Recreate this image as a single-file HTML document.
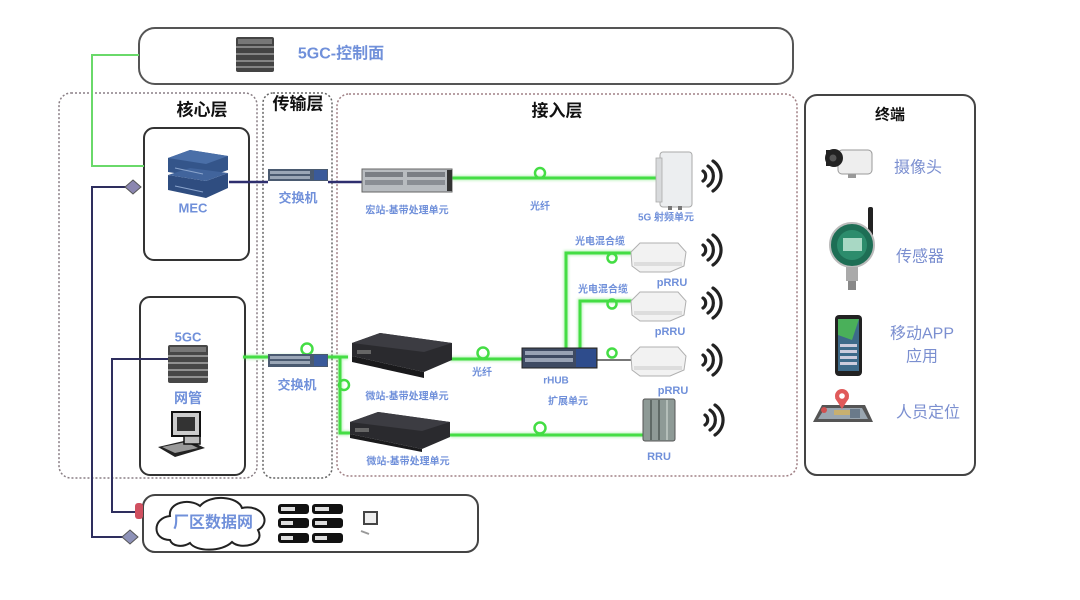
<!DOCTYPE html>
<html><head><meta charset="utf-8"><style>
html,body{margin:0;padding:0;background:#fff;width:1080px;height:600px;overflow:hidden}
svg{display:block}
text{font-family:"Liberation Sans","Noto Sans CJK SC",sans-serif}
.b{fill:#7090da;font-weight:bold}
.n{fill:#7b8fd0}
.t{fill:#111;font-weight:bold}
</style></head><body>
<svg width="1080" height="600" viewBox="0 0 1080 600" xmlns="http://www.w3.org/2000/svg">
<defs>
<filter id="gl" x="-20%" y="-20%" width="140%" height="140%"><feGaussianBlur stdDeviation="1.2"/></filter>
</defs>

<!-- top 5GC control plane box -->
<rect x="139" y="28" width="654" height="56" rx="16" fill="#fff" stroke="#555" stroke-width="2"/>
<g>
<rect x="236" y="37" width="38" height="35" rx="2" fill="#444"/>
<rect x="238" y="39" width="34" height="5" fill="#777"/>
<line x1="236" y1="47" x2="274" y2="47" stroke="#999" stroke-width="1.5"/>
<line x1="236" y1="54" x2="274" y2="54" stroke="#999" stroke-width="1.5"/>
<line x1="236" y1="61" x2="274" y2="61" stroke="#999" stroke-width="1.5"/>
<line x1="236" y1="67" x2="274" y2="67" stroke="#999" stroke-width="1.5"/>
</g>
<text x="341" y="54" class="b" font-size="16" text-anchor="middle" dominant-baseline="central">5GC-控制面</text>

<!-- dashed layer boxes -->
<rect x="59" y="93" width="198" height="385" rx="12" fill="none" stroke="#8a7f85" stroke-width="1.5" stroke-dasharray="2,2"/>
<rect x="263" y="93" width="69" height="385" rx="10" fill="none" stroke="#666" stroke-width="1.5" stroke-dasharray="2,2"/>
<rect x="337" y="94" width="460" height="382" rx="12" fill="none" stroke="#a08085" stroke-width="1.5" stroke-dasharray="2,2"/>

<text x="202" y="110" class="t" font-size="17" text-anchor="middle" dominant-baseline="central">核心层</text>
<text x="298" y="104" class="t" font-size="17" text-anchor="middle" dominant-baseline="central">传输层</text>
<text x="557" y="111" class="t" font-size="17" text-anchor="middle" dominant-baseline="central">接入层</text>

<!-- MEC box -->
<rect x="144" y="128" width="105" height="132" rx="10" fill="#fff" stroke="#333" stroke-width="2"/>
<!-- 5GC box -->
<rect x="140" y="297" width="105" height="178" rx="10" fill="#fff" stroke="#333" stroke-width="2"/>

<!-- terminal box -->
<rect x="805" y="95" width="170" height="380" rx="12" fill="#fff" stroke="#444" stroke-width="2"/>

<!-- bottom box -->
<rect x="143" y="495" width="335" height="57" rx="12" fill="#fff" stroke="#444" stroke-width="2"/>

<!-- green control line -->
<polyline points="139,55 92,55 92,166 144,166" fill="none" stroke="#6ad96a" stroke-width="2"/>

<!-- navy lines -->
<polyline points="128,187 92,187 92,537 126,537" fill="none" stroke="#2e2e5e" stroke-width="2"/>
<polyline points="172,359 112,359 112,512 136,512" fill="none" stroke="#2e2e5e" stroke-width="2"/>
<line x1="229" y1="182" x2="268" y2="182" stroke="#2e2e6e" stroke-width="2.5"/>
<line x1="328" y1="182" x2="362" y2="182" stroke="#2e2e6e" stroke-width="2.5"/>

<!-- green lines -->
<g stroke="#44dd44" fill="none">
<g stroke-width="5" opacity="0.35" filter="url(#gl)">
<line x1="452" y1="178" x2="660" y2="178"/>
<line x1="243" y1="357" x2="348" y2="357"/>
<polyline points="340,357 340,433 350,433"/>
<line x1="450" y1="359" x2="522" y2="359"/>
<polyline points="566,350 566,253 632,253"/>
<polyline points="580,350 580,301 632,301"/>
<line x1="450" y1="435" x2="644" y2="435"/>
</g>
<g stroke-width="3">
<line x1="452" y1="178" x2="660" y2="178"/>
<line x1="243" y1="357" x2="348" y2="357"/>
<polyline points="340,357 340,433 350,433"/>
<line x1="450" y1="359" x2="522" y2="359"/>
<polyline points="566,350 566,253 632,253"/>
<polyline points="580,350 580,301 632,301"/>
<line x1="450" y1="435" x2="644" y2="435"/>
</g>
<g stroke-width="2.5">
<circle cx="540" cy="173" r="5"/>
<circle cx="307" cy="349" r="5.5"/>
<circle cx="344" cy="385" r="5"/>
<circle cx="483" cy="353" r="5.5"/>
<circle cx="612" cy="258" r="4.5"/>
<circle cx="612" cy="304" r="4.5"/>
<circle cx="612" cy="353" r="4.5"/>
<circle cx="540" cy="428" r="5.5"/>
</g>
</g>
<line x1="597" y1="360" x2="632" y2="360" stroke="#777" stroke-width="2"/>

<!-- MEC device -->
<g>
<polygon points="168,158 190,150 228,156 228,170 206,178 168,172" fill="#34558a"/>
<polygon points="168,158 190,150 228,156 206,164" fill="#4a6fa8"/>
<polygon points="168,175 168,190 206,198 228,188 228,173 206,181" fill="#2f4d80"/>
<polygon points="168,175 190,168 228,173 206,181" fill="#41649c"/>
<line x1="175" y1="168" x2="203" y2="174" stroke="#8aa4cc" stroke-width="1"/>
<line x1="175" y1="186" x2="203" y2="192" stroke="#8aa4cc" stroke-width="1"/>
</g>
<text x="193" y="208" class="b" font-size="13" text-anchor="middle" dominant-baseline="central">MEC</text>

<!-- diamonds -->
<polygon points="133,180 141,187 133,194 125,187" fill="#8b86b0" stroke="#555" stroke-width="1"/>
<polygon points="130,530 138,537 130,544 122,537" fill="#8e92b8" stroke="#555" stroke-width="1"/>
<rect x="135" y="503" width="8" height="16" rx="3" fill="#d05060"/>

<!-- switches -->
<g>
<rect x="268" y="169" width="60" height="12" fill="#4a5a70"/>
<rect x="270" y="171" width="40" height="3" fill="#9aa6b6"/>
<rect x="270" y="176" width="40" height="3" fill="#9aa6b6"/>
<rect x="314" y="170" width="13" height="10" fill="#3a5a9a"/>
</g>
<text x="298" y="198" class="b" font-size="13" text-anchor="middle" dominant-baseline="central">交换机</text>
<g>
<rect x="268" y="354" width="60" height="13" fill="#4a5a70"/>
<rect x="270" y="356" width="40" height="3" fill="#9aa6b6"/>
<rect x="270" y="361" width="40" height="3" fill="#9aa6b6"/>
<rect x="314" y="355" width="13" height="11" fill="#3a5a9a"/>
</g>
<text x="297" y="385" class="b" font-size="13" text-anchor="middle" dominant-baseline="central">交换机</text>

<!-- macro BBU -->
<g>
<rect x="362" y="169" width="90" height="23" fill="#b8bcc0" stroke="#666" stroke-width="1"/>
<rect x="365" y="172" width="38" height="5" fill="#7a7e84"/>
<rect x="365" y="180" width="38" height="5" fill="#8a8e94"/>
<rect x="407" y="172" width="38" height="5" fill="#7a7e84"/>
<rect x="407" y="180" width="38" height="5" fill="#8a8e94"/>
<rect x="447" y="170" width="5" height="21" fill="#333"/>
</g>
<text x="407" y="211" class="b" font-size="10" text-anchor="middle" dominant-baseline="central">宏站-基带处理单元</text>
<text x="540" y="207" class="b" font-size="10" text-anchor="middle" dominant-baseline="central">光纤</text>

<!-- 5G radio unit -->
<g>
<rect x="660" y="152" width="32" height="55" rx="3" fill="#eceef0" stroke="#aaa" stroke-width="1"/>
<rect x="656" y="158" width="6" height="44" fill="#d8dadc" stroke="#aaa" stroke-width="0.8"/>
<rect x="668" y="206" width="4" height="4" fill="#777"/>
<rect x="678" y="206" width="4" height="4" fill="#777"/>
</g>
<text x="666" y="218" class="b" font-size="10" text-anchor="middle" dominant-baseline="central">5G 射频单元</text>

<!-- waves -->
<g fill="none" stroke="#222" stroke-width="3.2" stroke-linecap="round">
<g transform="translate(703,176)"><path d="M0,-5 A6,6 0 0,1 0,5"/><path d="M5,-10 A12,12 0 0,1 5,10"/><path d="M10,-15 A18,18 0 0,1 10,15"/></g>
<g transform="translate(703,250)"><path d="M0,-5 A6,6 0 0,1 0,5"/><path d="M5,-10 A12,12 0 0,1 5,10"/><path d="M10,-15 A18,18 0 0,1 10,15"/></g>
<g transform="translate(703,303)"><path d="M0,-5 A6,6 0 0,1 0,5"/><path d="M5,-10 A12,12 0 0,1 5,10"/><path d="M10,-15 A18,18 0 0,1 10,15"/></g>
<g transform="translate(703,360)"><path d="M0,-5 A6,6 0 0,1 0,5"/><path d="M5,-10 A12,12 0 0,1 5,10"/><path d="M10,-15 A18,18 0 0,1 10,15"/></g>
<g transform="translate(705,420)"><path d="M0,-5 A6,6 0 0,1 0,5"/><path d="M5,-10 A12,12 0 0,1 5,10"/><path d="M10,-15 A18,18 0 0,1 10,15"/></g>
</g>

<!-- pRRUs -->
<g fill="#f2f2f2" stroke="#b0b0b0" stroke-width="1">
<path d="M631,252 L640,243 L678,243 L686,252 L684,266 L670,272 L640,272 L632,266 Z"/>
<path d="M631,301 L640,292 L678,292 L686,301 L684,315 L670,321 L640,321 L632,315 Z"/>
<path d="M631,356 L640,347 L678,347 L686,356 L684,370 L670,376 L640,376 L632,370 Z"/>
</g>
<g fill="#ddd"><rect x="634" y="262" width="48" height="4"/><rect x="634" y="311" width="48" height="4"/><rect x="634" y="366" width="48" height="4"/></g>
<text x="600" y="242" class="b" font-size="10" text-anchor="middle" dominant-baseline="central">光电混合缆</text>
<text x="603" y="290" class="b" font-size="10" text-anchor="middle" dominant-baseline="central">光电混合缆</text>
<text x="672" y="283" class="b" font-size="11" text-anchor="middle" dominant-baseline="central">pRRU</text>
<text x="670" y="332" class="b" font-size="11" text-anchor="middle" dominant-baseline="central">pRRU</text>
<text x="673" y="391" class="b" font-size="11" text-anchor="middle" dominant-baseline="central">pRRU</text>

<!-- rHUB -->
<g>
<rect x="522" y="348" width="75" height="20" fill="#3e4a62" stroke="#222" stroke-width="1"/>
<rect x="525" y="351" width="48" height="4" fill="#98a2b4"/>
<rect x="525" y="358" width="48" height="4" fill="#98a2b4"/>
<rect x="576" y="349" width="20" height="18" fill="#2e4c8c"/>
</g>
<text x="556" y="381" class="b" font-size="10" text-anchor="middle" dominant-baseline="central">rHUB</text>
<text x="568" y="402" class="b" font-size="10" text-anchor="middle" dominant-baseline="central">扩展单元</text>
<text x="482" y="373" class="b" font-size="10" text-anchor="middle" dominant-baseline="central">光纤</text>

<!-- small cells -->
<g>
<polygon points="352,343 380,333 452,343 452,360 424,372 352,356" fill="#2a2a2e"/>
<polygon points="352,343 380,333 452,343 424,352" fill="#3c3c42"/>
<polygon points="352,356 424,372 424,378 352,362" fill="#1a1a1c"/>
<rect x="357" y="350" width="14" height="4" fill="#666"/>
</g>
<text x="407" y="397" class="b" font-size="10" text-anchor="middle" dominant-baseline="central">微站-基带处理单元</text>
<g>
<polygon points="350,422 378,412 450,422 450,437 422,449 350,434" fill="#2a2a2e"/>
<polygon points="350,422 378,412 450,422 422,431" fill="#3c3c42"/>
<polygon points="350,434 422,449 422,452 350,438" fill="#1a1a1c"/>
<rect x="355" y="428" width="14" height="4" fill="#666"/>
</g>
<text x="408" y="462" class="b" font-size="10" text-anchor="middle" dominant-baseline="central">微站-基带处理单元</text>

<!-- RRU -->
<g>
<rect x="643" y="399" width="32" height="42" rx="2" fill="#8e9a96" stroke="#555" stroke-width="1"/>
<line x1="651" y1="400" x2="651" y2="440" stroke="#5f6a66" stroke-width="2"/>
<line x1="659" y1="400" x2="659" y2="440" stroke="#5f6a66" stroke-width="2"/>
<line x1="667" y1="400" x2="667" y2="440" stroke="#b4beb9" stroke-width="2"/>
</g>
<text x="659" y="457" class="b" font-size="11" text-anchor="middle" dominant-baseline="central">RRU</text>

<!-- 5GC server in core box -->
<g>
<rect x="168" y="345" width="40" height="38" rx="2" fill="#474747"/>
<rect x="170" y="347" width="36" height="5" fill="#777"/>
<line x1="168" y1="356" x2="208" y2="356" stroke="#aaa" stroke-width="1.5"/>
<line x1="168" y1="363" x2="208" y2="363" stroke="#aaa" stroke-width="1.5"/>
<line x1="168" y1="370" x2="208" y2="370" stroke="#aaa" stroke-width="1.5"/>
<line x1="168" y1="377" x2="208" y2="377" stroke="#aaa" stroke-width="1.5"/>
</g>
<text x="188" y="337" class="b" font-size="13" text-anchor="middle" dominant-baseline="central">5GC</text>
<text x="188" y="398" class="b" font-size="14" text-anchor="middle" dominant-baseline="central">网管</text>
<!-- computer -->
<g>
<rect x="172" y="412" width="28" height="24" fill="#ccc" stroke="#111" stroke-width="2"/>
<rect x="177" y="417" width="18" height="14" fill="#333"/>
<polygon points="158,447 188,440 205,448 175,457" fill="#222"/>
<polygon points="162,447 186,442 198,448 175,453" fill="#999"/>
<rect x="184" y="436" width="16" height="8" fill="#bbb" stroke="#111" stroke-width="1.5"/>
</g>

<!-- cloud -->
<path d="M170,540 C152,540 152,518 170,516 C168,502 190,498 200,506 C210,494 238,496 242,508 C262,504 272,522 258,530 C266,545 240,550 232,542 C222,552 196,552 190,543 C182,548 172,546 170,540 Z" fill="#fff" stroke="#222" stroke-width="2"/>
<text x="213" y="523" class="b" font-size="16" text-anchor="middle" dominant-baseline="central">厂区数据网</text>

<!-- server racks -->
<g fill="#111">
<rect x="278" y="504" width="31" height="10" rx="3"/><rect x="312" y="504" width="31" height="10" rx="3"/>
<rect x="278" y="518" width="31" height="10" rx="3"/><rect x="312" y="518" width="31" height="10" rx="3"/>
<rect x="278" y="533" width="31" height="10" rx="3"/><rect x="312" y="533" width="31" height="10" rx="3"/>
</g>
<g fill="#ddd">
<rect x="281" y="507" width="14" height="4"/><rect x="315" y="507" width="14" height="4"/>
<rect x="281" y="521" width="12" height="4"/><rect x="315" y="521" width="12" height="4"/>
<rect x="281" y="536" width="12" height="4"/><rect x="315" y="536" width="12" height="4"/>
</g>
<!-- small monitor -->
<g>
<rect x="364" y="512" width="13" height="12" fill="#eee" stroke="#444" stroke-width="2"/>
<line x1="361" y1="531" x2="369" y2="534" stroke="#999" stroke-width="2"/>
</g>

<!-- terminal panel -->
<text x="890" y="115" class="t" font-size="15" text-anchor="middle" dominant-baseline="central">终端</text>
<!-- camera -->
<g>
<rect x="838" y="150" width="34" height="24" rx="4" fill="#eee" stroke="#999" stroke-width="1"/>
<ellipse cx="834" cy="158" rx="9" ry="9" fill="#222"/>
<rect x="826" y="150" width="12" height="16" fill="#222"/>
<circle cx="833" cy="158" r="3.5" fill="#555"/>
<rect x="848" y="174" width="8" height="4" fill="#999"/>
</g>
<text x="918" y="168" class="n" font-size="16" text-anchor="middle" dominant-baseline="central">摄像头</text>
<!-- sensor -->
<g>
<rect x="868" y="207" width="5" height="30" rx="2" fill="#222"/>
<circle cx="852" cy="245" r="22" fill="#1e6e55" stroke="#bbb" stroke-width="2"/>
<circle cx="852" cy="245" r="15" fill="#2c8c6c"/>
<rect x="843" y="238" width="19" height="13" fill="#a8d8c4"/>
<rect x="846" y="267" width="12" height="14" fill="#aaa"/>
<rect x="848" y="281" width="8" height="9" fill="#888"/>
</g>
<text x="920" y="257" class="n" font-size="16" text-anchor="middle" dominant-baseline="central">传感器</text>
<!-- phone -->
<g>
<rect x="835" y="315" width="27" height="61" rx="4" fill="#222"/>
<rect x="838" y="319" width="21" height="52" fill="#3d6a8a"/>
<polygon points="838,319 859,319 852,340 838,335" fill="#4ab05a"/>
<rect x="840" y="344" width="17" height="3" fill="#ccd"/>
<rect x="840" y="350" width="17" height="3" fill="#ccd"/>
<rect x="840" y="356" width="17" height="3" fill="#ccd"/>
<rect x="840" y="362" width="17" height="3" fill="#ccd"/>
</g>
<text x="922" y="334" class="n" font-size="16" text-anchor="middle" dominant-baseline="central">移动APP</text>
<text x="922" y="357" class="n" font-size="16" text-anchor="middle" dominant-baseline="central">应用</text>
<!-- location -->
<g>
<polygon points="813,422 822,405 865,405 873,422" fill="#555"/>
<polygon points="818,419 825,408 862,408 868,419" fill="#9aa6b0"/>
<rect x="834" y="410" width="22" height="5" fill="#c8b070"/>
<rect x="850" y="409" width="10" height="9" fill="#6a7a8a"/>
<circle cx="824" cy="410" r="3" fill="#d05050"/>
<path d="M835,398 L842,409 L849,398 Z" fill="#e05a5a"/>
<circle cx="842" cy="396" r="7" fill="#e05a5a"/>
<circle cx="842" cy="396" r="2.8" fill="#fff"/>
</g>
<text x="928" y="413" class="n" font-size="16" text-anchor="middle" dominant-baseline="central">人员定位</text>
</svg>
</body></html>
